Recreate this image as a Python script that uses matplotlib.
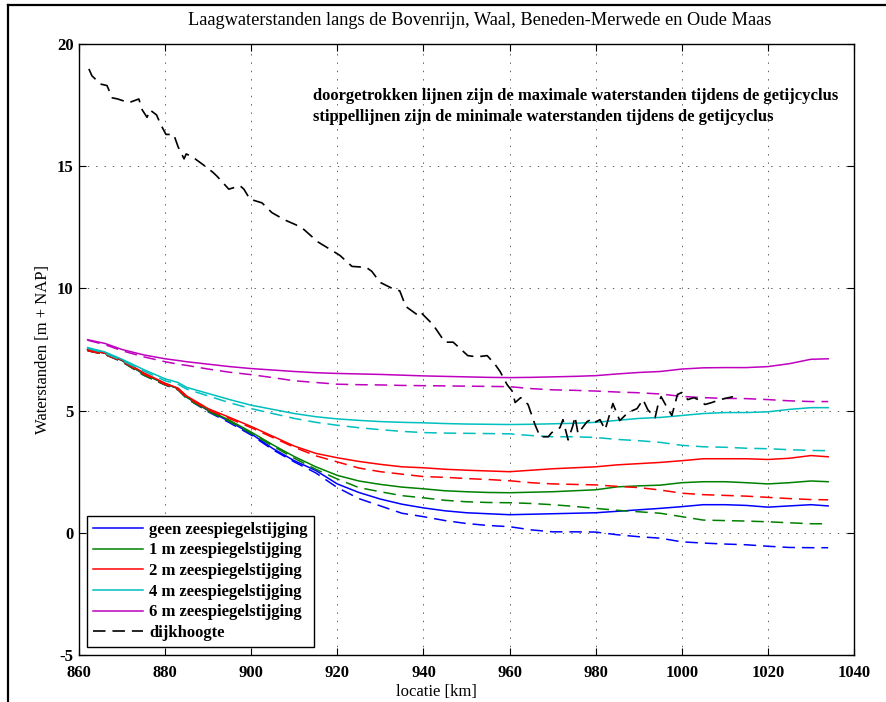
import matplotlib
matplotlib.use("Agg")
import matplotlib.pyplot as plt
from matplotlib.lines import Line2D

plt.rcParams['font.family'] = ['Liberation Serif', 'DejaVu Serif']
plt.rcParams['lines.scale_dashes'] = False
plt.rcParams['axes.unicode_minus'] = False

title = "Laagwaterstanden langs de Bovenrijn, Waal, Beneden-Merwede en Oude Maas"
xlabel = "locatie [km]"
ylabel = "Waterstanden [m + NAP]"
note1 = "doorgetrokken lijnen zijn de maximale waterstanden tijdens de getijcyclus"
note2 = "stippellijnen zijn de minimale waterstanden tijdens de getijcyclus"

labels = ["geen zeespiegelstijging", "1 m zeespiegelstijging", "2 m zeespiegelstijging",
          "4 m zeespiegelstijging", "6 m zeespiegelstijging", "dijkhoogte"]
colors = ["#0000ff", "#008000", "#ff0000", "#00bfbf", "#bf00bf", "#000000"]

xticks = [860, 880, 900, 920, 940, 960, 980, 1000, 1020, 1040]
yticks = [-5, 0, 5, 10, 15, 20]

locatie = [862, 866, 870, 875, 880, 883, 885, 890, 895, 900, 905, 910, 915, 920, 925, 930, 935,
           940, 945, 950, 955, 960, 965, 970, 975, 980, 985, 990, 995, 1000, 1005, 1010, 1015,
           1020, 1025, 1030, 1034]

geen_max = [7.5, 7.35, 7.05, 6.5, 6.1, 5.9, 5.55, 5.0, 4.55, 4.05, 3.45, 2.95, 2.55, 2.0, 1.65,
            1.38, 1.17, 1.02, 0.9, 0.82, 0.78, 0.74, 0.76, 0.78, 0.8, 0.82, 0.88, 0.94, 1.0,
            1.07, 1.15, 1.15, 1.12, 1.05, 1.1, 1.15, 1.1]
geen_min = [7.45, 7.3, 7.0, 6.45, 6.05, 5.85, 5.5, 4.95, 4.5, 4.0, 3.4, 2.9, 2.45, 1.85, 1.4,
            1.1, 0.8, 0.66, 0.5, 0.38, 0.3, 0.25, 0.12, 0.04, 0.04, 0.03, -0.08, -0.16, -0.22,
            -0.37, -0.42, -0.46, -0.49, -0.55, -0.6, -0.61, -0.61]
m1_max = [7.5, 7.35, 7.05, 6.5, 6.1, 5.9, 5.55, 5.02, 4.6, 4.12, 3.6, 3.12, 2.7, 2.35, 2.12,
          1.98, 1.87, 1.8, 1.72, 1.68, 1.65, 1.64, 1.66, 1.68, 1.72, 1.76, 1.88, 1.92, 1.95,
          2.05, 2.09, 2.09, 2.05, 2.0, 2.05, 2.12, 2.09]
m1_min = [7.45, 7.3, 7.0, 6.45, 6.05, 5.85, 5.5, 4.97, 4.55, 4.07, 3.55, 3.05, 2.6, 2.2, 1.85,
          1.68, 1.52, 1.43, 1.33, 1.27, 1.24, 1.23, 1.2, 1.15, 1.08, 1.0, 0.92, 0.86, 0.8,
          0.66, 0.52, 0.5, 0.48, 0.45, 0.41, 0.37, 0.37]
m2_max = [7.5, 7.35, 7.07, 6.55, 6.12, 5.92, 5.6, 5.08, 4.72, 4.35, 3.95, 3.55, 3.25, 3.07,
          2.92, 2.8, 2.7, 2.66, 2.6, 2.56, 2.53, 2.5, 2.56, 2.62, 2.66, 2.7, 2.78, 2.83, 2.88,
          2.95, 3.03, 3.03, 3.03, 3.0, 3.05, 3.16, 3.11]
m2_min = [7.45, 7.3, 7.02, 6.5, 6.07, 5.87, 5.55, 5.03, 4.67, 4.3, 3.9, 3.5, 3.15, 2.9, 2.65,
          2.5, 2.4, 2.3, 2.27, 2.22, 2.18, 2.13, 2.05, 2.0, 1.98, 1.96, 1.9, 1.85, 1.75, 1.62,
          1.56, 1.53, 1.5, 1.45, 1.4, 1.36, 1.35]
m4_max = [7.58, 7.4, 7.1, 6.68, 6.3, 6.15, 5.95, 5.7, 5.45, 5.22, 5.05, 4.88, 4.75, 4.66, 4.6,
          4.55, 4.52, 4.5, 4.47, 4.45, 4.44, 4.43, 4.44, 4.46, 4.48, 4.52, 4.6, 4.68, 4.72, 4.8,
          4.88, 4.92, 4.92, 4.95, 5.05, 5.12, 5.12]
m4_min = [7.55, 7.35, 7.05, 6.62, 6.22, 6.08, 5.88, 5.6, 5.32, 5.08, 4.88, 4.68, 4.52, 4.4,
          4.3, 4.22, 4.15, 4.1, 4.08, 4.07, 4.06, 4.05, 3.98, 3.93, 3.93, 3.9, 3.82, 3.77, 3.7,
          3.58, 3.52, 3.5, 3.46, 3.44, 3.4, 3.37, 3.36]
m6_max = [7.9, 7.75, 7.5, 7.28, 7.12, 7.05, 7.0, 6.9, 6.8, 6.72, 6.66, 6.6, 6.55, 6.52, 6.5,
          6.48, 6.45, 6.42, 6.4, 6.38, 6.36, 6.35, 6.36, 6.38, 6.4, 6.43, 6.5, 6.56, 6.6, 6.7,
          6.75, 6.76, 6.76, 6.8, 6.92, 7.1, 7.12]
m6_min = [7.88, 7.7, 7.45, 7.2, 7.0, 6.9, 6.85, 6.7, 6.57, 6.47, 6.35, 6.22, 6.15, 6.08, 6.06,
          6.05, 6.03, 6.02, 6.01, 6.0, 5.99, 5.98, 5.9, 5.85, 5.83, 5.8, 5.76, 5.73, 5.68, 5.58,
          5.53, 5.5, 5.49, 5.45, 5.4, 5.37, 5.37]

dijk_x = [862.3, 863.0, 865.0, 866.5, 867.7, 869.0, 871.6, 873.9, 874.7, 875.8, 876.5, 878.0,
          879.0, 880.2, 882.0, 883.0, 884.4, 884.9, 886.2, 889.3, 891.1, 892.0, 894.8, 897.4,
          898.3, 899.7, 902.5, 904.8, 907.8, 910.4, 912.3, 915.5, 918.3, 920.6, 923.4, 926.7,
          928.0, 929.9, 933.2, 934.5, 935.9, 938.5, 939.2, 942.2, 945.0, 946.9, 950.3, 952.4,
          954.8, 956.6, 957.8, 959.4, 960.6, 961.3, 962.6, 964.3, 965.9, 967.1, 969.0, 969.8,
          971.7, 972.4, 973.6, 974.7, 975.2, 975.9, 978.0, 978.9, 979.6, 981.0, 982.2, 984.0,
          985.6, 987.5, 989.6, 991.0, 992.1, 993.8, 994.5, 995.2, 996.6, 997.7, 999.0, 1000.0,
          1001.4, 1002.8, 1003.8, 1005.4, 1007.0, 1008.9, 1011.9]
dijk_y = [18.98, 18.7, 18.36, 18.3, 17.8, 17.75, 17.6, 17.75, 17.3, 17.0, 17.3, 17.1, 16.7,
          16.3, 16.3, 15.8, 15.3, 15.5, 15.4, 15.0, 14.75, 14.6, 14.06, 14.2, 14.06, 13.65,
          13.5, 13.1, 12.8, 12.6, 12.4, 11.9, 11.6, 11.35, 10.9, 10.86, 10.7, 10.25, 9.96, 9.9,
          9.26, 8.93, 9.05, 8.52, 7.8, 7.8, 7.25, 7.2, 7.25, 6.9, 6.6, 6.07, 5.8, 5.33, 5.53,
          5.25, 4.43, 3.93, 3.93, 4.1, 4.3, 4.63, 3.8, 4.38, 4.75, 4.06, 4.55, 4.63, 4.5, 4.63,
          4.22, 5.29, 4.59, 4.92, 5.08, 5.45, 5.04, 4.71, 5.25, 5.57, 5.12, 4.8, 5.66, 5.74,
          5.45, 5.53, 5.45, 5.25, 5.33, 5.45, 5.57]

fig = plt.figure(figsize=(8.86, 7.02), dpi=100)
ax = fig.add_axes([79/886, 1-655/702, (854-79)/886, (655-44)/702])

maxs = [geen_max, m1_max, m2_max, m4_max, m6_max]
mins = [geen_min, m1_min, m2_min, m4_min, m6_min]
dash = (9, 5)
handles = []
for i in range(5):
    h, = ax.plot(locatie, maxs[i], color=colors[i], lw=1.1, label=labels[i])
    ax.plot(locatie, mins[i], color=colors[i], lw=1.1, dashes=dash)
    handles.append(h)
hd, = ax.plot(dijk_x, dijk_y, color=colors[5], lw=1.2, dashes=dash, label=labels[5])
handles.append(hd)

ax.set_xlim(860, 1040)
ax.set_ylim(-5, 20)
ax.set_xticks(xticks)
ax.set_yticks(yticks)
ax.tick_params(direction='in', length=5, width=0.8, top=True, right=True, labelsize=12)
ax.tick_params(axis='x', pad=7)
ax.tick_params(axis='y', pad=4)
for lab in ax.get_xticklabels() + ax.get_yticklabels():
    lab.set_fontweight('bold')
ax.grid(True, color='#444444', linestyle=(0, (1, 5)), lw=0.6)
for s in ax.spines.values():
    s.set_linewidth(1.0)

ax.set_title(title, fontsize=13.2, pad=14, x=0.517)
ax.set_xlabel(xlabel, fontsize=12)
ax.xaxis.set_label_coords(0.4606, -0.047)
ax.set_ylabel(ylabel, fontsize=12, labelpad=4)

ax.text(914.3, 17.87, note1, fontsize=12, fontweight='bold', va='center', ha='left')
ax.text(914.3, 17.0, note2, fontsize=12, fontweight='bold', va='center', ha='left')

leg = ax.legend(handles=handles, loc='lower left', bbox_to_anchor=(0.0103, 0.0131),
                borderaxespad=0, prop={'size': 12, 'weight': 'bold'}, fancybox=False,
                framealpha=1, edgecolor='black', handlelength=3.0, handletextpad=0.4,
                labelspacing=0.28, borderpad=0.35)
leg.get_frame().set_linewidth(1.0)

# outer frame
fig.add_artist(Line2D([8/886, 1.0], [1-4.5/702, 1-4.5/702], transform=fig.transFigure,
                      color='black', lw=1.6))
fig.add_artist(Line2D([8/886, 8/886], [0, 1-4.5/702], transform=fig.transFigure,
                      color='black', lw=1.6))

fig.savefig("out.png", dpi=100)
